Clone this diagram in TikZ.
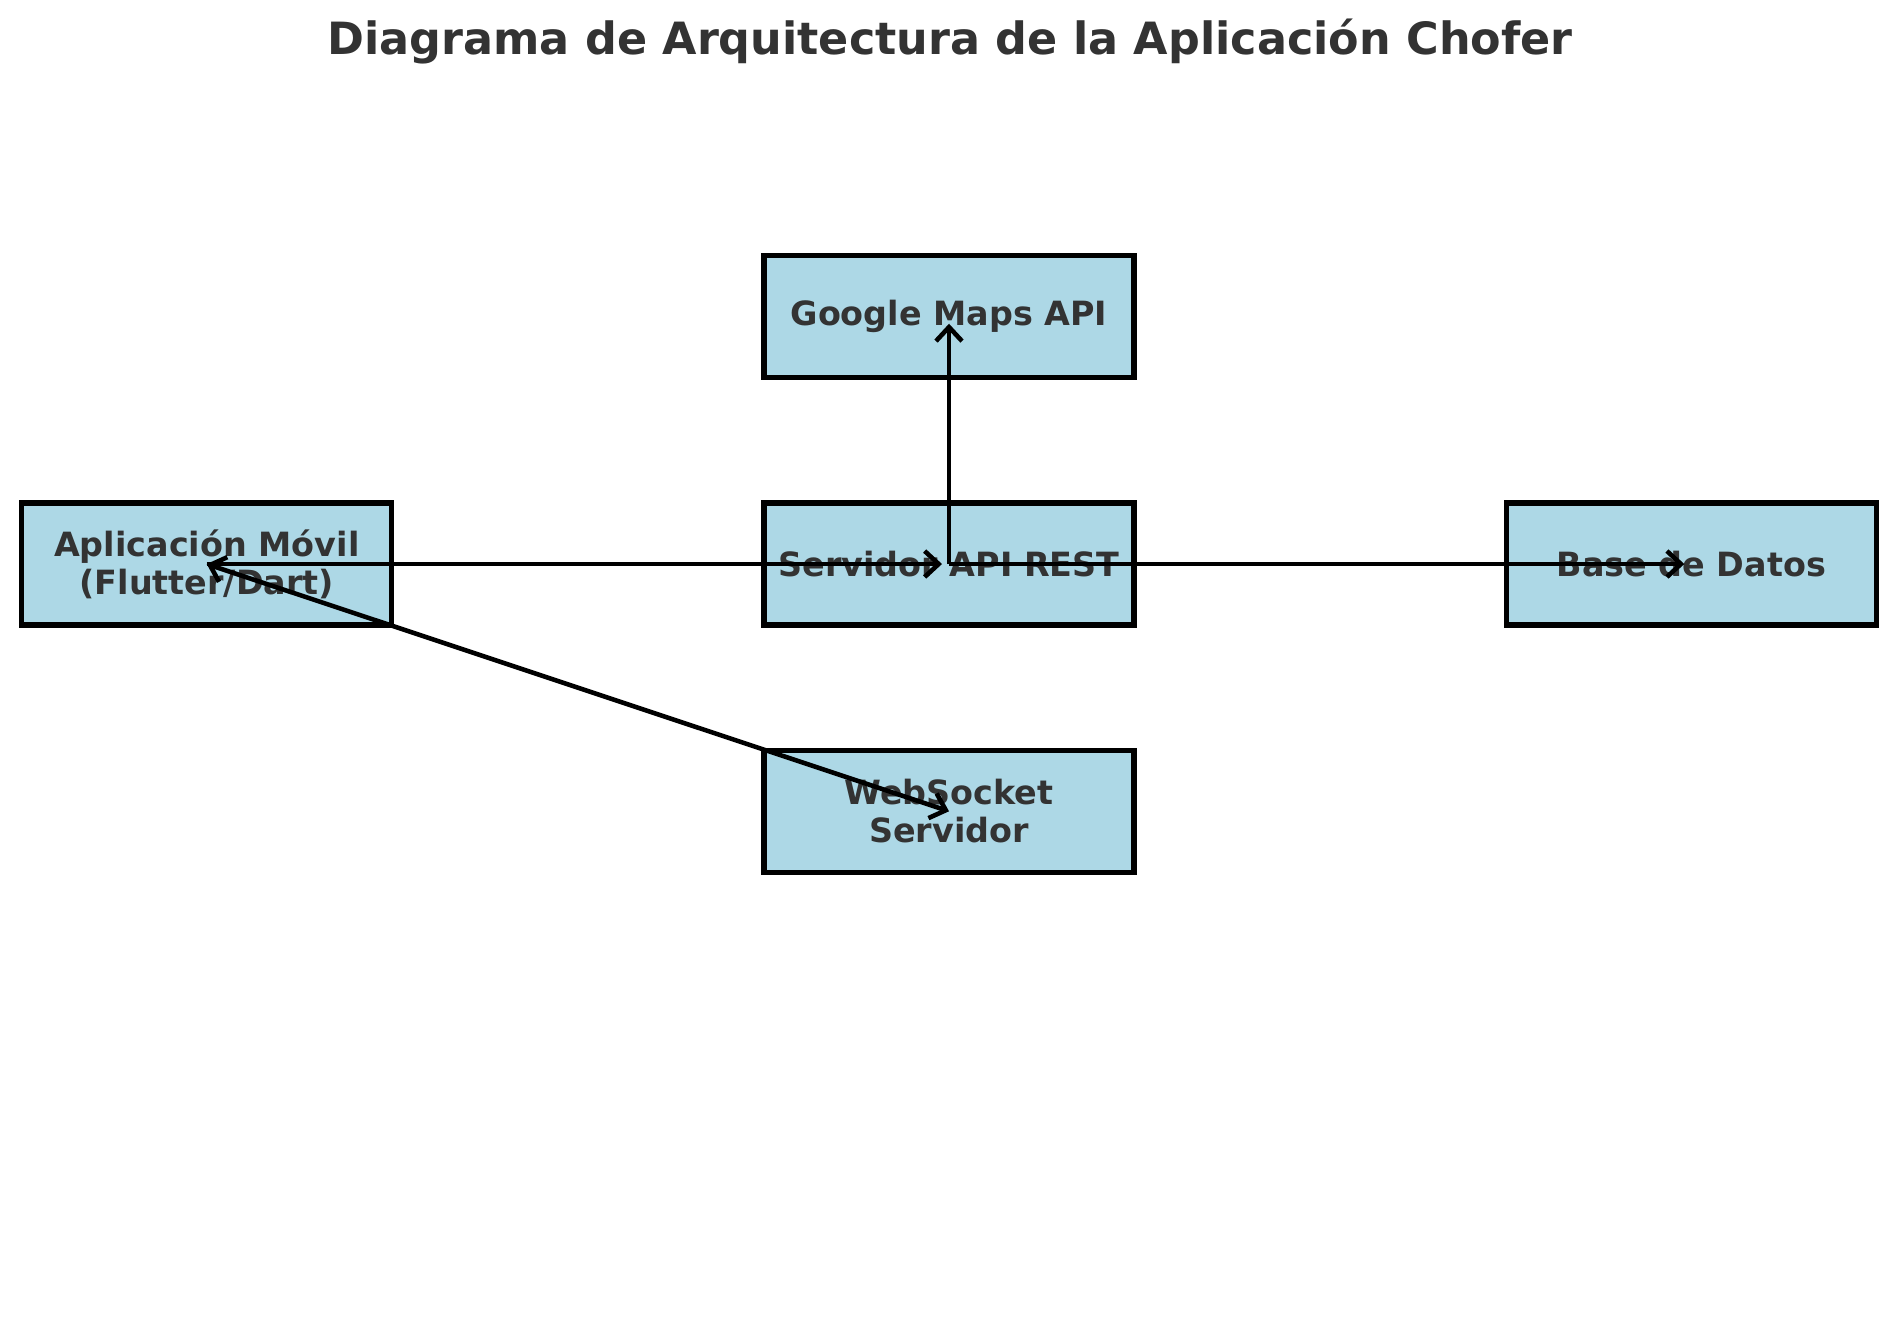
\documentclass[tikz,border=0pt]{standalone}
\usepackage{fontspec}
\setmainfont{DejaVu Sans}
\usepackage{tikz}
\usetikzlibrary{arrows.meta,positioning}
\definecolor{boxblue}{RGB}{173,216,230}
\definecolor{txtgray}{RGB}{51,51,51}

\begin{document}
\begin{tikzpicture}[
  every node/.style={text=txtgray,font=\bfseries},
  comp/.style={draw=black,line width=1.5pt,fill=boxblue,minimum width=3.7cm,
    minimum height=1.22cm,align=center,inner sep=0pt,font=\fontsize{9.5}{10.8}\selectfont\bfseries},
  link/.style={line width=1.3pt,-{Straight Barb[length=1.4mm,width=2.6mm]},shorten >=0.07cm}
]
\useasboundingbox (0,0) rectangle (19,-13.24);

% the title
\node (title) at (9.5,-0.42) {\fontsize{12.65}{14}\selectfont\bfseries Diagrama de Arquitectura de la Aplicación Chofer};

% the components
\node[comp] (server) at (9.49,-5.64) {Servidor API REST};
\node[comp,above=1.2cm of server] (maps) {Google Maps API};
\node[comp,below=1.2cm of server] (ws) {WebSocket\\Servidor};
\node[comp,left=3.67cm of server] (app) {Aplicación Móvil\\(Flutter/Dart)};
\node[comp,right=3.67cm of server] (db) {Base de Datos};

% the links
\draw[link] (app.center) -- (server.center);
\draw[link] (server.center) -- (db.center);
\draw[link] (server.center) -- (maps.center);
\draw[link,{Straight Barb[length=1.4mm,width=2.6mm]}-{Straight Barb[length=1.4mm,width=2.6mm]},shorten >=0pt] (app.center) -- (ws.center);
\end{tikzpicture}
\end{document}
